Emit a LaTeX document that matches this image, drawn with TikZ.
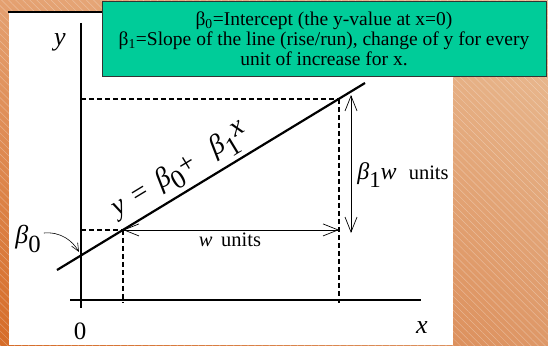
\documentclass[tikz,border=0pt]{standalone}
\usepackage{fontspec}
\setmainfont{Liberation Serif}
\usetikzlibrary{arrows.meta,calc,patterns.meta,positioning,shadings}
\definecolor{boxgreen}{RGB}{0,204,153}
\definecolor{bgUL}{RGB}{228,160,112}
\definecolor{bgLL}{RGB}{214,108,40}
\definecolor{bgUR}{RGB}{234,190,150}
\definecolor{bgLR}{RGB}{222,152,104}
\newcommand{\bigidx}[1]{\raisebox{-0.7ex}{\scalebox{0.95}{#1}}}

\begin{document}
\begin{tikzpicture}[x=1pt, y=-1pt,
  axis/.style={line width=2.2pt},
  guide/.style={line width=1.6pt, dash pattern=on 5pt off 3pt},
  dim/.style={line width=0.7pt,
              {Straight Barb[length=15pt,width=12pt]}-{Straight Barb[length=15pt,width=12pt]}},
  lbl/.style={inner sep=0pt, font=\fontsize{20.5}{22}\selectfont},
  note/.style={draw=black!80, line width=1pt, fill=boxgreen, align=center,
               minimum width=444pt, minimum height=74pt, inner sep=0pt,
               font=\fontsize{19.5}{20}\selectfont},
]
\useasboundingbox (0,0) rectangle (548,345);
\shade[upper left=bgUL, lower left=bgLL, upper right=bgUR, lower right=bgLR]
  (0,0) rectangle (548,345);
\fill[pattern={Lines[angle=-45, distance=5pt, line width=0.5pt]}, pattern color=white,
      opacity=0.3] (0,0) rectangle (548,345);
\fill[white] (9,12) rectangle (453,345);
\draw[line width=2pt] (8,12) -- (453,12);

\node[note] (defs) at (324,39) {β\textsubscript{0}=Intercept (the y-value at x=0)\\
  β\textsubscript{1}=Slope of the line (rise/run), change of y for every\\
  unit of increase for x.};

\coordinate (ytop) at (81,23);
\coordinate (ybot) at (81,308);
\coordinate (xleft) at (70,300);
\coordinate (xright) at (421,300);
\coordinate (foot) at (0,303);
\coordinate (lstart) at (57,270);
\coordinate (lend) at (365,83);
\coordinate (p1) at ($(lstart)!0.2143!(lend)$);
\coordinate (p2) at ($(lstart)!0.9156!(lend)$);
\coordinate (icpt) at ($(lstart)!0.0779!(lend)$);
\coordinate (vtop) at (351,95);
\coordinate (vbot) at (351,233);

\draw[guide] (p1 -| ytop) -- (p1);
\draw[guide] (p2 -| ytop) -- (p2);
\draw[guide] (p1) -- (p1 |- foot);
\draw[guide] (p2) -- (p2 |- foot);

\draw[axis] (ytop) -- (ybot);
\draw[axis] (xleft) -- (xright);
\draw[axis] (lstart) -- node[pos=0.435, above=4pt, sloped, inner sep=0pt,
    font=\fontsize{28}{30}\selectfont] (eqn)
    {\textit{y}\ \,=\ \,\textit{β}\bigidx{0}+\ \ \ \textit{β}\bigidx{1}\raisebox{0.5ex}{\textit{x}}} (lend);

\draw[dim] (p1) -- (p2 |- p1);
\draw[dim] (vtop) -- (vbot);

\node[lbl] (ylab) at (60,42) {\fontsize{26}{28}\selectfont\textit{y}};
\node[lbl] (xlab) at (422,328) {\fontsize{26}{28}\selectfont\textit{x}};
\node[lbl] (zero) at (80,331) {\fontsize{25}{27}\selectfont 0};
\node[lbl] (wlab) at (230,240) {\textit{w}\, units};
\node[lbl] (bwlab) at (403,175) {\fontsize{24}{26}\selectfont\textit{β}\bigidx{1}\textit{w}\ \ \fontsize{20.5}{22}\selectfont units};
\node[lbl] (b0lab) at (28,239) {\fontsize{26}{28}\selectfont\textit{β}\bigidx{0}};

\draw[line width=0.6pt, shorten >=4pt, -{Straight Barb[length=8pt,width=7pt]}]
  ([yshift=6pt, xshift=3pt]b0lab.east) to[out=5, in=120] (icpt);
\end{tikzpicture}
\end{document}
